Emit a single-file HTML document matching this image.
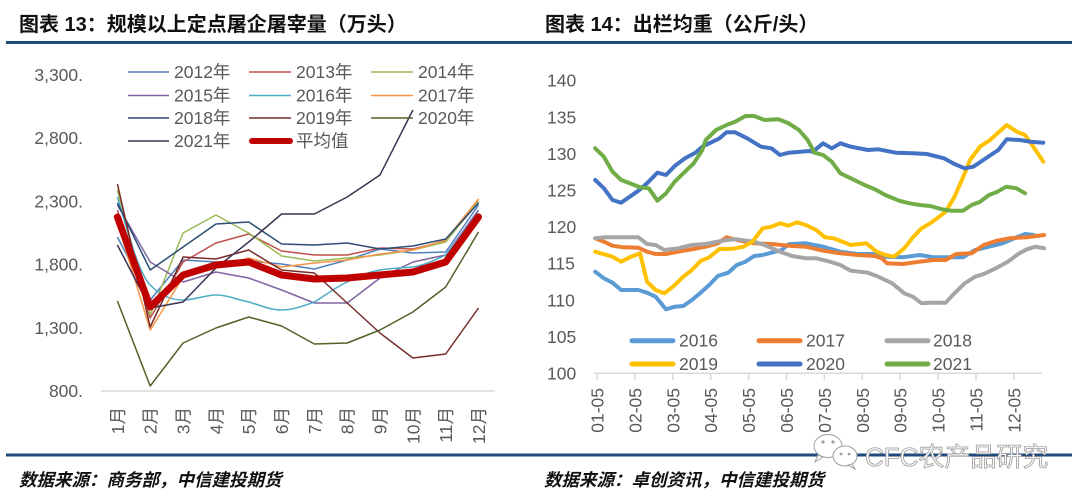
<!DOCTYPE html>
<html><head><meta charset="utf-8">
<style>
html,body{margin:0;padding:0;background:#fff;}
svg{display:block;}
text{font-family:"Liberation Sans","Noto Sans CJK SC",sans-serif;}
.t{font-size:20px;font-weight:bold;fill:#111;}
.ax{font-size:17.5px;fill:#595959;}
.ft{font-size:17.5px;font-weight:bold;font-style:italic;fill:#111;}
</style></head>
<body>
<svg width="1080" height="503" viewBox="0 0 1080 503" xmlns="http://www.w3.org/2000/svg">
<rect width="1080" height="503" fill="#fff"/>

<!-- Titles -->
<text class="t" x="19" y="31">图表 13：规模以上定点屠企屠宰量（万头）</text>
<text class="t" x="545" y="31">图表 14：出栏均重（公斤/头）</text>
<rect x="6" y="41" width="1066" height="3" fill="#1F4A7C"/>

<!-- ========== LEFT CHART ========== -->
<g class="ax" text-anchor="end">
<text x="83" y="81">3,300.</text>
<text x="83" y="144">2,800.</text>
<text x="83" y="207.5">2,300.</text>
<text x="83" y="270.5">1,800.</text>
<text x="83" y="334">1,300.</text>
<text x="83" y="397">800.</text>
</g>
<line x1="101" y1="391" x2="495" y2="391" stroke="#d9d9d9" stroke-width="1.5"/>

<g class="ax" text-anchor="end">
<text transform="translate(124,407) rotate(-90)">1月</text>
<text transform="translate(156.7,407) rotate(-90)">2月</text>
<text transform="translate(189.6,407) rotate(-90)">3月</text>
<text transform="translate(222.4,407) rotate(-90)">4月</text>
<text transform="translate(255.2,407) rotate(-90)">5月</text>
<text transform="translate(288.1,407) rotate(-90)">6月</text>
<text transform="translate(320.9,407) rotate(-90)">7月</text>
<text transform="translate(353.7,407) rotate(-90)">8月</text>
<text transform="translate(386.5,407) rotate(-90)">9月</text>
<text transform="translate(419.4,407) rotate(-90)">10月</text>
<text transform="translate(452.2,407) rotate(-90)">11月</text>
<text transform="translate(485,407) rotate(-90)">12月</text>
</g>

<g fill="none" stroke-width="1.5" stroke-linejoin="round">
<polyline stroke="#4F81BD" points="117.4,237 150.2,300 183.1,260 215.9,262 248.7,261 281.6,264 314.4,269 347.2,260 380,249 412.9,253 445.7,252 478.5,205"/>
<polyline stroke="#C0504D" points="117.4,210 150.2,318 183.1,262 215.9,243 248.7,234 281.6,251 314.4,255 347.2,255 380,248 412.9,249 445.7,241 478.5,202"/>
<polyline stroke="#9BBB59" points="117.4,190 150.2,315 183.1,233 215.9,215 248.7,233 281.6,256 314.4,261 347.2,258 380,255 412.9,250 445.7,242 478.5,201"/>
<polyline stroke="#8064A2" points="117.4,205 150.2,262 183.1,282 215.9,272 248.7,278 281.6,290 314.4,303 347.2,303 380,278 412.9,262 445.7,255 478.5,210"/>
<path stroke="#4BACC6" d="M117.4,197 C130,240 140,275 150.2,285 C160,295 170,300 183.1,300 C195,300 205,295 215.9,295 C228,295 238,300 248.7,302 C260,305 270,310 281.6,310 C293,310 303,306 314.4,302 C326,295 336,287 347.2,282 C358,276 368,272 380,270 C392,268 402,268 412.9,267 C425,265 435,260 445.7,255 L478.5,213"/>
<polyline stroke="#F79646" points="117.4,222 150.2,330 183.1,277 215.9,268 248.7,258 281.6,267 314.4,263 347.2,260 380,254 412.9,250 445.7,240 478.5,199"/>
<polyline stroke="#2C4D75" points="117.4,203 150.2,270 183.1,247 215.9,224 248.7,222 281.6,244 314.4,245 347.2,243 380,249 412.9,246 445.7,239 478.5,203"/>
<polyline stroke="#772C2A" points="117.4,184 150.2,327 183.1,257 215.9,259 248.7,250 281.6,270 314.4,273 347.2,303 380,333 412.9,358 445.7,354 478.5,308"/>
<polyline stroke="#4F6228" points="117.4,301 150.2,386 183.1,343 215.9,328 248.7,317 281.6,326 314.4,344 347.2,343 380,330 412.9,312 445.7,287 478.5,232"/>
<polyline stroke="#3F3151" points="117.4,245 150.2,308 183.1,302 215.9,268 248.7,242 281.6,214 314.4,214 347.2,197 380,175 412.9,110"/>
</g>
<polyline fill="none" stroke="#C00000" stroke-width="7" stroke-linejoin="round" stroke-linecap="round" points="117.4,217 150.2,307 183.1,275 215.9,265 248.7,262 281.6,275 314.4,279 347.2,278 380,275 412.9,272 445.7,262 478.5,217"/>

<!-- left legend -->
<g stroke-width="1.5">
<line x1="128" y1="72" x2="169" y2="72" stroke="#4F81BD"/>
<line x1="249" y1="72" x2="291" y2="72" stroke="#C0504D"/>
<line x1="371" y1="72" x2="413" y2="72" stroke="#9BBB59"/>
<line x1="128" y1="95.5" x2="169" y2="95.5" stroke="#8064A2"/>
<line x1="249" y1="95.5" x2="291" y2="95.5" stroke="#4BACC6"/>
<line x1="371" y1="95.5" x2="413" y2="95.5" stroke="#F79646"/>
<line x1="128" y1="118" x2="169" y2="118" stroke="#2C4D75"/>
<line x1="249" y1="118" x2="291" y2="118" stroke="#772C2A"/>
<line x1="371" y1="118" x2="413" y2="118" stroke="#4F6228"/>
<line x1="128" y1="141" x2="169" y2="141" stroke="#3F3151"/>
</g>
<line x1="252" y1="141" x2="290" y2="141" stroke="#C00000" stroke-width="6" stroke-linecap="round"/>
<g class="ax">
<text x="174" y="78">2012年</text>
<text x="296" y="78">2013年</text>
<text x="418" y="78">2014年</text>
<text x="174" y="101.5">2015年</text>
<text x="296" y="101.5">2016年</text>
<text x="418" y="101.5">2017年</text>
<text x="174" y="124">2018年</text>
<text x="296" y="124">2019年</text>
<text x="418" y="124">2020年</text>
<text x="174" y="147">2021年</text>
<text x="296" y="147">平均值</text>
</g>

<!-- ========== RIGHT CHART ========== -->
<g class="ax">
<text x="547" y="86.7">140</text>
<text x="547" y="123.3">135</text>
<text x="547" y="159.9">130</text>
<text x="547" y="196.5">125</text>
<text x="547" y="233.1">120</text>
<text x="547" y="269.7">115</text>
<text x="547" y="306.3">110</text>
<text x="547" y="342.9">105</text>
<text x="547" y="379.5">100</text>
</g>
<line x1="594" y1="373.3" x2="1042" y2="373.3" stroke="#d9d9d9" stroke-width="1.5"/>
<g stroke="#d9d9d9" stroke-width="1.5">
<line x1="597" y1="373" x2="597" y2="380"/>
<line x1="634.9" y1="373" x2="634.9" y2="380"/>
<line x1="672.8" y1="373" x2="672.8" y2="380"/>
<line x1="710.7" y1="373" x2="710.7" y2="380"/>
<line x1="748.6" y1="373" x2="748.6" y2="380"/>
<line x1="786.5" y1="373" x2="786.5" y2="380"/>
<line x1="824.4" y1="373" x2="824.4" y2="380"/>
<line x1="862.3" y1="373" x2="862.3" y2="380"/>
<line x1="900.2" y1="373" x2="900.2" y2="380"/>
<line x1="938.1" y1="373" x2="938.1" y2="380"/>
<line x1="976" y1="373" x2="976" y2="380"/>
<line x1="1013.9" y1="373" x2="1013.9" y2="380"/>
</g>
<g class="ax" text-anchor="end">
<text transform="translate(603.5,388) rotate(-90)">01-05</text>
<text transform="translate(641.4,388) rotate(-90)">02-05</text>
<text transform="translate(679.3,388) rotate(-90)">03-05</text>
<text transform="translate(717.2,388) rotate(-90)">04-05</text>
<text transform="translate(755.1,388) rotate(-90)">05-05</text>
<text transform="translate(793,388) rotate(-90)">06-05</text>
<text transform="translate(830.9,388) rotate(-90)">07-05</text>
<text transform="translate(868.8,388) rotate(-90)">08-05</text>
<text transform="translate(906.7,388) rotate(-90)">09-05</text>
<text transform="translate(944.6,388) rotate(-90)">10-05</text>
<text transform="translate(982.5,388) rotate(-90)">11-05</text>
<text transform="translate(1020.4,388) rotate(-90)">12-05</text>
</g>

<g fill="none" stroke-width="4" stroke-linejoin="round" stroke-linecap="round">
<polyline stroke="#5B9BD5" points="595.2,271.7 603.9,278.3 612.5,282.7 621.1,290 638.4,290 647,292.7 655.6,296.7 666,309.3 674.7,306.7 683.3,306 691.9,300 700.6,292.7 709.2,285 717.8,276 728.2,272.7 736.8,265 745.5,261.7 754.1,256 762.7,255 781.7,250 788.6,244.3 805.9,243.3 823.1,246.7 840.4,251.7 857.7,254 875,254 885.3,256.7 902.6,257.3 919.8,255 933.6,257.3 963,257.3 975.1,250 988.9,246.7 1002.7,243.3 1016.5,237.3 1025.1,234 1033.8,235"/>
<polyline stroke="#ED7D31" points="595.2,238.3 603.9,241.7 612.5,245.7 622.9,247.3 638.4,247.7 647,251.7 655.6,254 666,254 678.1,251.7 691.9,249.3 705.7,246.7 717.8,243.3 726.5,237.3 736.8,240 754.1,243.3 774.8,244.3 788.6,245.7 805.9,246.7 823.1,250.7 840.4,253.3 857.7,255 875,256 881.8,258.3 887,263.3 902.6,264 919.8,261.7 933.6,260 945.7,260 956.1,254 971.6,253.3 983.7,245 995.8,241 1009.6,238.3 1026.9,237.3 1044.1,235"/>
<polyline stroke="#A5A5A5" points="595.2,238.3 603.9,237.3 638.4,237.3 647,244 655.6,245 664.3,250 678.1,248.3 691.9,245 705.7,244 726.5,240 736.8,239.3 754.1,241.7 764.4,245 780,251.7 792,256 805.9,258.3 816.2,258.3 830,261.7 840.4,265 850.8,270.7 868,272.7 876.7,276 892.2,283.3 904.3,293.3 912.9,296.7 921.6,303.3 930.2,302.7 945.7,302.7 954.4,293.3 964.7,283.3 975.1,276.7 983.7,274 995.8,268.3 1007.9,261.7 1018.2,254 1026.9,249.3 1035.5,246.7 1044.1,248.3"/>
<polyline stroke="#FFC000" points="595.2,251.7 612.5,256.7 621.1,261.7 629.8,257.3 640.1,253.3 647,281.7 655.6,290 664.3,293.3 672.9,286.7 683.3,276.7 691.9,270 700.6,261 709.2,257.3 719.6,249 733.4,248.7 743.7,246.7 752.4,241.7 762.7,228.3 771.4,226.7 780,223.3 788.6,225.7 797.2,222.3 805.9,225 816.2,230 824.9,237.3 833.5,238.3 850.8,245 866.3,243.3 876.7,251.7 885.3,255 893.9,256.7 904.3,248.3 912.9,237.3 921.6,228.3 930.2,223.3 937.1,218.3 945.7,211.7 954.4,197 963.3,176.7 970,160 980,146.7 990,140 1006.7,125 1016.7,131.7 1025,135 1033.3,146.7 1043.3,161.7"/>
<polyline stroke="#4472C4" points="595.2,180 603.9,188.3 612.5,200 621.1,202.7 629.8,196.7 638.4,190.7 647,183.3 657.4,172.7 666,175 674.7,166 685,158.3 695.4,152.7 702.3,146.7 719.6,138.3 726.5,132.3 735.1,132.3 747.2,138.3 761,146.7 771.4,148.3 780,155 788.6,152.7 809.3,151 812.8,151.7 823.1,143.3 831.8,148.3 840.4,143.3 850.8,146.7 868,150 878.4,149.3 895.7,152.7 912.9,153.3 926.7,154 944,158.3 954.4,164 964.7,168.3 973.4,166.7 983.3,160 998.3,150 1006.7,139.3 1020,140 1030,141.7 1043.3,142.7"/>
<polyline stroke="#70AD47" points="595.2,148.3 603.9,156.7 612.5,171.7 621.1,180 629.8,183.3 640.1,187.3 648.8,188.3 657.4,200.7 666,193.3 674.7,181.7 685,171.7 693.7,163.3 702.3,150 705.7,140 716.1,130 726.5,125 735.1,121.7 745.5,116 754.1,116 764.4,120 778.3,119.3 788.6,123.3 799,130 807.6,140 814.5,152.7 823.1,155 831.8,161.7 840.4,173.3 850.8,178.3 864.6,185 874.9,189.3 885.3,195 899.1,200.7 909.5,203.3 919.8,205 930.2,206 942.3,209.3 950.9,210.7 963,210.7 971.6,205 980.2,201.7 988.9,195 997.5,191.7 1006.2,186.7 1016.5,188.3 1025.1,193.3"/>
</g>

<!-- right legend -->
<g stroke-width="5" stroke-linecap="round">
<line x1="632" y1="340.7" x2="673" y2="340.7" stroke="#5B9BD5"/>
<line x1="759" y1="340.7" x2="800" y2="340.7" stroke="#ED7D31"/>
<line x1="887" y1="340.7" x2="928" y2="340.7" stroke="#A5A5A5"/>
<line x1="632" y1="364" x2="673" y2="364" stroke="#FFC000"/>
<line x1="759" y1="364" x2="800" y2="364" stroke="#4472C4"/>
<line x1="887" y1="364" x2="928" y2="364" stroke="#70AD47"/>
</g>
<g class="ax">
<text x="679" y="346.7">2016</text>
<text x="806" y="346.7">2017</text>
<text x="933" y="346.7">2018</text>
<text x="679" y="370">2019</text>
<text x="806" y="370">2020</text>
<text x="933" y="370">2021</text>
</g>

<!-- bottom bar & footers -->
<rect x="6" y="453.5" width="1066" height="3" fill="#1F4A7C"/>
<text class="ft" x="19" y="486">数据来源：商务部，中信建投期货</text>
<text class="ft" x="544" y="486">数据来源：卓创资讯，中信建投期货</text>

<!-- watermark -->
<g fill="#fff" stroke="#a0a0a0" stroke-width="1">
<ellipse cx="828" cy="446" rx="14" ry="11.5"/>
<path d="M818,455 L815,462 L823,457 Z"/>
<ellipse cx="845" cy="456" rx="12" ry="10"/>
<path d="M852,464 L855,469 L848,465 Z"/>
</g>
<g fill="#a0a0a0">
<circle cx="823" cy="442" r="1.6"/><circle cx="833" cy="442" r="1.6"/>
<circle cx="841" cy="454" r="1.4"/><circle cx="849" cy="454" r="1.4"/>
</g>
<text x="865" y="466" font-size="26" fill="#fff" stroke="#9a9a9a" stroke-width="0.8" style="font-family:'Liberation Sans','Noto Sans CJK SC',sans-serif;">CFC农产品研究</text>
</svg>
</body></html>
